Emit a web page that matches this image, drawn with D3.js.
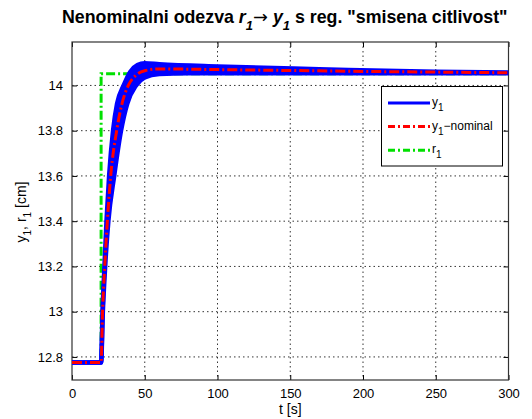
<!DOCTYPE html>
<html lang="en">
<head>
<meta charset="UTF-8">
<title>Nenominalni odezva</title>
<script src="https://d3js.org/d3.v7.min.js"></script>
<style>
  body { margin: 0; background: #fff; }
  text { font-family: "Liberation Sans", Arial, sans-serif; }
</style>
</head>
<body>
<div id="chart"></div>
<script>
// time axis ticks and y ticks
const xTicks = [0, 50, 100, 150, 200, 250, 300];
const yTicks = [12.8, 13, 13.2, 13.4, 13.6, 13.8, 14];

// r1 - reference step
const tR = [0, 20, 20, 300];
const r1 = [12.775, 12.775, 14.052, 14.052];

// y1 - band of perturbed responses (fast / slow edge)
const tFast = [0, 20, 21, 22.3, 23.7, 25.5, 28.2, 31, 35.5, 40, 45, 50, 60, 100, 170, 250, 300];
const y1Fast = [12.775, 12.775, 13.0, 13.2, 13.4, 13.6, 13.8, 13.92, 14.0, 14.06, 14.09, 14.098, 14.094, 14.084, 14.072, 14.06, 14.057];
const tSlow = [0, 20, 21.2, 22.8, 25, 29, 33.7, 38, 44, 50, 60, 80, 150, 300];
const y1Slow = [12.775, 12.775, 13.0, 13.2, 13.4, 13.6, 13.8, 13.92, 14.0, 14.035, 14.05, 14.054, 14.054, 14.054];

// y1 - nominal
const tNom = [0, 20, 21, 22.5, 24.3, 26.6, 30.7, 34, 38.7, 44, 50, 60, 100, 150, 200, 250, 300];
const yNom = [12.775, 12.775, 13.0, 13.2, 13.4, 13.6, 13.8, 13.91, 14.0, 14.045, 14.065, 14.073, 14.07, 14.066, 14.062, 14.059, 14.056];

const W = 532, H = 419;
const L = 72, R = 508.5, T = 42, B = 380;

const svg = d3.select("#chart").append("svg")
    .attr("width", W).attr("height", H);

const x = d3.scaleLinear().domain([0, 300]).range([L, R]);
const y = d3.scaleLinear().domain([12.698, 14.192]).range([B, T]);

// grid
const grid = svg.append("g").attr("stroke", "#000").attr("stroke-width", 0.8)
    .attr("stroke-dasharray", "1.5,3");
grid.selectAll(".gx").data(xTicks.slice(1, -1)).join("line")
    .attr("x1", d => x(d)).attr("x2", d => x(d)).attr("y1", T).attr("y2", B);
grid.selectAll(".gy").data(yTicks).join("line")
    .attr("x1", L).attr("x2", R).attr("y1", d => y(d)).attr("y2", d => y(d));

// axes (inward ticks, MATLAB box)
const tickLen = 5;
const axB = svg.append("g").attr("transform", `translate(0,${B})`)
    .call(d3.axisBottom(x).tickValues(xTicks).tickSizeInner(-tickLen).tickSizeOuter(0).tickPadding(9));
const axT = svg.append("g").attr("transform", `translate(0,${T})`)
    .call(d3.axisTop(x).tickValues(xTicks).tickSizeInner(-tickLen).tickSizeOuter(0).tickFormat(""));
const axL = svg.append("g").attr("transform", `translate(${L},0)`)
    .call(d3.axisLeft(y).tickValues(yTicks).tickSizeInner(-tickLen).tickSizeOuter(0).tickPadding(9)
    .tickFormat(d3.format("")));
const axR = svg.append("g").attr("transform", `translate(${R},0)`)
    .call(d3.axisRight(y).tickValues(yTicks).tickSizeInner(-tickLen).tickSizeOuter(0).tickFormat(""));
[axB, axT, axL, axR].forEach(a => {
  a.select(".domain").remove();
  a.selectAll("line").attr("stroke", "#000");
  a.selectAll("text").attr("font-size", 13).attr("fill", "#000");
});
svg.append("rect").attr("x", L).attr("y", T).attr("width", R - L).attr("height", B - T)
    .attr("fill", "none").attr("stroke", "#333").attr("stroke-width", 1.2);

const clip = svg.append("clipPath").attr("id", "clip").append("rect")
    .attr("x", L).attr("y", T).attr("width", R - L).attr("height", B - T);
const plot = svg.append("g").attr("clip-path", "url(#clip)");

const line = d3.line().x(d => x(d[0])).y(d => y(d[1]));
const smooth = d3.line().x(d => x(d[0])).y(d => y(d[1])).curve(d3.curveMonotoneX);
const zip = (a, b) => a.map((v, i) => [v, b[i]]);

// green reference
plot.append("path").datum(zip(tR, r1)).attr("d", line)
    .attr("fill", "none").attr("stroke", "#00e000").attr("stroke-width", 3)
    .attr("stroke-dasharray", "9,3,2,3");

// blue band: fill between fast and slow responses
const fast = zip(tFast, y1Fast), slow = zip(tSlow, y1Slow);
const tAll = Array.from(new Set(tFast.concat(tSlow))).sort((a, b) => a - b);
const interp = (ts, vs, t) => {
  for (let i = 1; i < ts.length; i++) {
    if (t <= ts[i]) {
      const f = (t - ts[i - 1]) / (ts[i] - ts[i - 1]);
      return vs[i - 1] + f * (vs[i] - vs[i - 1]);
    }
  }
  return vs[vs.length - 1];
};
plot.append("path")
    .datum(tAll.map(t => [t, interp(tFast, y1Fast, t), interp(tSlow, y1Slow, t)]))
    .attr("d", d3.area().x(d => x(d[0])).y0(d => y(d[2])).y1(d => y(d[1])).curve(d3.curveMonotoneX))
    .attr("fill", "#0000ff");
[fast, slow].forEach(dd => {
  plot.append("path").datum(dd).attr("d", smooth)
      .attr("fill", "none").attr("stroke", "#0000ff").attr("stroke-width", 4.5)
      .attr("stroke-linejoin", "round");
});

// red nominal
plot.append("path").datum(zip(tNom, yNom)).attr("d", smooth)
    .attr("fill", "none").attr("stroke", "#ff0000").attr("stroke-width", 3)
    .attr("stroke-dasharray", "10,3,2,3");

// legend
const lg = svg.append("g");
lg.append("rect").attr("x", 381.5).attr("y", 86.5).attr("width", 121).attr("height", 79.5)
    .attr("fill", "#fff").attr("stroke", "#000").attr("stroke-width", 1);
const legItems = [
  { name: "y", sub: "1", rest: "", color: "#0000ff", dash: null },
  { name: "y", sub: "1", rest: "\u2212nominal", color: "#ff0000", dash: "7,3,2,3" },
  { name: "r", sub: "1", rest: "", color: "#00e000", dash: "7,3,2,3" }
];
legItems.forEach((it, i) => {
  const yy = 103 + i * 23.6;
  lg.append("line").attr("x1", 388).attr("x2", 430).attr("y1", yy).attr("y2", yy)
      .attr("stroke", it.color).attr("stroke-width", 3)
      .attr("stroke-dasharray", it.dash);
  const t = lg.append("text").attr("x", 432).attr("y", yy + 3).attr("font-size", 12);
  t.append("tspan").text(it.name);
  t.append("tspan").attr("dy", 5).attr("font-size", 10).text(it.sub);
  if (it.rest) t.append("tspan").attr("dy", -5).text(it.rest);
});

// x label
svg.append("text").attr("x", (L + R) / 2).attr("y", 414).attr("text-anchor", "middle")
    .attr("font-size", 14).text("t [s]");

// y label
const yl = svg.append("text").attr("transform", "translate(26,212) rotate(-90)")
    .attr("text-anchor", "middle").attr("font-size", 14);
yl.append("tspan").text("y");
yl.append("tspan").attr("dy", 5).attr("font-size", 10).text("1");
yl.append("tspan").attr("dy", -5).text(", r");
yl.append("tspan").attr("dy", 5).attr("font-size", 10).text("1");
yl.append("tspan").attr("dy", -5).text(" [cm]");

// title
const tt = svg.append("text").attr("x", 62).attr("y", 23)
    .attr("font-size", 17.8).attr("font-weight", "bold");
tt.append("tspan").text("Nenominalni odezva ");
tt.append("tspan").attr("font-style", "italic").text("r");
tt.append("tspan").attr("dy", 7).attr("font-size", 13).attr("font-style", "italic").text("1");
tt.append("tspan").attr("dy", -7).attr("font-family", "DejaVu Sans").attr("font-weight", "normal")
    .text("\u2192");
tt.append("tspan").text(" ");
tt.append("tspan").attr("font-style", "italic").text("y");
tt.append("tspan").attr("dy", 7).attr("font-size", 13).attr("font-style", "italic").text("1");
tt.append("tspan").attr("dy", -7).text(" s reg. \"smisena citlivost\"");
</script>
</body>
</html>
